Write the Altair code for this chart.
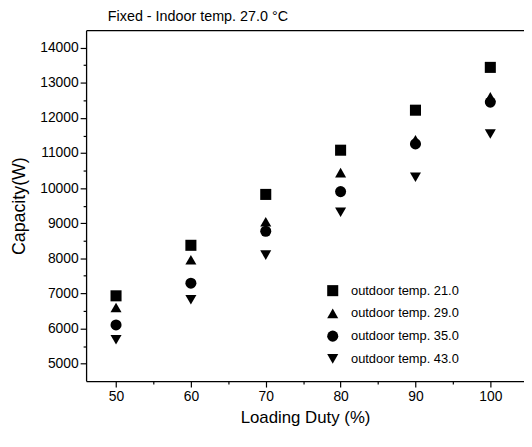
import altair as alt
import pandas as pd

duty = [50, 60, 70, 80, 90, 100]
series = ["outdoor temp. 21.0", "outdoor temp. 29.0", "outdoor temp. 35.0", "outdoor temp. 43.0"]
cap_21 = [6930, 8370, 9820, 11080, 12220, 13440]
cap_29 = [6600, 7960, 9040, 10440, 11380, 12600]
cap_35 = [6100, 7290, 8770, 9900, 11260, 12450]
cap_43 = [5680, 6820, 8090, 9310, 10310, 11540]
shapes = ["square", "triangle-up", "circle", "triangle-down"]

rows = []
for name, vals in zip(series, [cap_21, cap_29, cap_35, cap_43]):
    for d, v in zip(duty, vals):
        rows.append({"duty": d, "cap": v, "series": name})
df = pd.DataFrame(rows)

FONT = "Liberation Sans"
xscale = alt.Scale(domain=[46, 104.5], nice=False, zero=False)
yscale = alt.Scale(domain=[4500, 14500], nice=False, zero=False)

x_ticks = [50, 55, 60, 65, 70, 75, 80, 85, 90, 95, 100]
y_ticks = list(range(5000, 14001, 500))

y_axis = alt.Axis(values=y_ticks, title="Capacity(W)",
                  labelExpr="datum.value % 1000 === 0 ? datum.label : ''",
                  tickSize={"condition": {"test": "datum.value % 1000 === 0", "value": 6}, "value": 3},
                  format="d", grid=False, domainColor="black", tickColor="black",
                  domainWidth=1.3, tickWidth=1.2, labelColor="black", labelFont=FONT,
                  labelFontSize=14, labelPadding=2, titleFont=FONT, titleFontSize=18,
                  titleFontWeight="normal", titleColor="black", titlePadding=11,
                  labelFlush=False)

points = alt.Chart(df).mark_point(filled=True, opacity=1, color="black", size=125).encode(
    x=alt.X("duty:Q", scale=xscale,
            axis=alt.Axis(values=x_ticks, title="Loading Duty (%)",
                          labelExpr="datum.value % 10 === 0 ? datum.label : ''",
                          tickSize={"condition": {"test": "datum.value % 10 === 0", "value": 6}, "value": 3},
                          grid=False, domainColor="black", tickColor="black", domainWidth=1.3,
                          tickWidth=1.2, labelColor="black", labelFont=FONT, labelFontSize=14,
                          labelPadding=3, titleFont=FONT, titleFontSize=17, titleFontWeight="normal",
                          titleColor="black", titlePadding=6, labelFlush=False)),
    y=alt.Y("cap:Q", scale=yscale, axis=y_axis),
    shape=alt.Shape("series:N", scale=alt.Scale(domain=series, range=shapes),
                    legend=alt.Legend(title=None, orient="none", legendX=243, legendY=257,
                                      labelFont=FONT, labelFontSize=13, labelColor="black",
                                      symbolFillColor="black", symbolStrokeColor="black",
                                      symbolSize=125, labelOffset=12, rowPadding=5, padding=0)),
)

top = alt.Chart(df).mark_point(opacity=0).encode(
    x=alt.X("duty:Q", scale=xscale,
            axis=alt.Axis(orient="top", labels=False, ticks=False, title=None, grid=False,
                          domainColor="black", domainWidth=1.3)),
    y=alt.Y("cap:Q", scale=yscale, axis=y_axis),
)

chart = alt.layer(points, top).resolve_axis(x="independent").properties(
    width=443, height=355,
    title=alt.TitleParams("Fixed - Indoor temp. 27.0 °C", anchor="start", frame="group", dx=22,
                          font=FONT, fontSize=14.5, fontWeight="normal", color="black", offset=6),
    autosize=alt.AutoSizeParams(type="none"),
    padding={"left": 79, "top": 20, "right": 0, "bottom": 45},
).configure_view(stroke=None)

chart.save("out.html", embed_options={"renderer": "svg", "actions": False})
